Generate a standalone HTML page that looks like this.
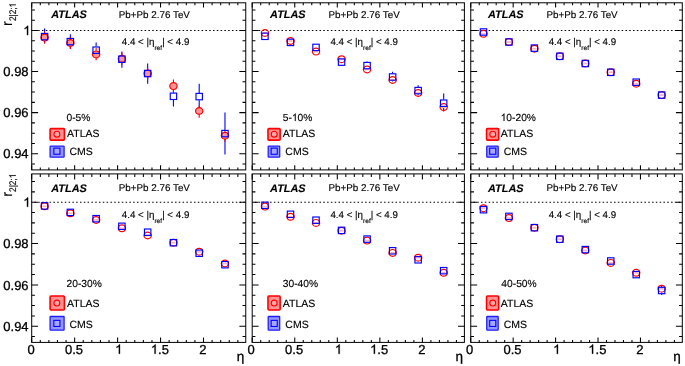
<!DOCTYPE html>
<html><head><meta charset="utf-8"><title>r2|2;1 vs eta</title>
<style>
html,body{margin:0;padding:0;background:#fff;}
body{width:685px;height:366px;overflow:hidden;font-family:"Liberation Sans", sans-serif;}
svg text{fill:#000;text-rendering:geometricPrecision;stroke:#000;stroke-width:0.14px;}
svg{filter:blur(0.25px);}
svg text.ax{stroke:#000;stroke-width:0.3px;}
</style></head><body>
<svg width="685" height="366" viewBox="0 0 685 366" style="display:block" font-family='"Liberation Sans", sans-serif'><rect width="685" height="366" fill="#fff"/><g><line x1="31.70" y1="30.50" x2="245.75" y2="30.50" stroke="#000" stroke-width="1.1" stroke-dasharray="1.5 2.3" stroke-dashoffset="1.1"/><rect x="31.70" y="2.80" width="214.05" height="167.10" fill="none" stroke="#000" stroke-width="1.0"/><path d="M31.70 169.90v-4.7 M31.70 2.80v4.8 M40.29 169.90v-2.35 M40.29 2.80v2.4 M48.88 169.90v-2.35 M48.88 2.80v2.4 M57.47 169.90v-2.35 M57.47 2.80v2.4 M66.06 169.90v-2.35 M66.06 2.80v2.4 M74.65 169.90v-4.7 M74.65 2.80v4.8 M83.24 169.90v-2.35 M83.24 2.80v2.4 M91.83 169.90v-2.35 M91.83 2.80v2.4 M100.42 169.90v-2.35 M100.42 2.80v2.4 M109.01 169.90v-2.35 M109.01 2.80v2.4 M117.60 169.90v-4.7 M117.60 2.80v4.8 M126.19 169.90v-2.35 M126.19 2.80v2.4 M134.78 169.90v-2.35 M134.78 2.80v2.4 M143.37 169.90v-2.35 M143.37 2.80v2.4 M151.96 169.90v-2.35 M151.96 2.80v2.4 M160.55 169.90v-4.7 M160.55 2.80v4.8 M169.14 169.90v-2.35 M169.14 2.80v2.4 M177.73 169.90v-2.35 M177.73 2.80v2.4 M186.32 169.90v-2.35 M186.32 2.80v2.4 M194.91 169.90v-2.35 M194.91 2.80v2.4 M203.50 169.90v-4.7 M203.50 2.80v4.8 M212.09 169.90v-2.35 M212.09 2.80v2.4 M220.68 169.90v-2.35 M220.68 2.80v2.4 M229.27 169.90v-2.35 M229.27 2.80v2.4 M237.86 169.90v-2.35 M237.86 2.80v2.4 M31.70 9.97h3.2 M245.75 9.97h-3.2 M31.70 20.23h3.2 M245.75 20.23h-3.2 M31.70 30.50h6.4 M245.75 30.50h-6.4 M31.70 40.77h3.2 M245.75 40.77h-3.2 M31.70 51.03h3.2 M245.75 51.03h-3.2 M31.70 61.30h3.2 M245.75 61.30h-3.2 M31.70 71.56h6.4 M245.75 71.56h-6.4 M31.70 81.83h3.2 M245.75 81.83h-3.2 M31.70 92.09h3.2 M245.75 92.09h-3.2 M31.70 102.36h3.2 M245.75 102.36h-3.2 M31.70 112.62h6.4 M245.75 112.62h-6.4 M31.70 122.89h3.2 M245.75 122.89h-3.2 M31.70 133.15h3.2 M245.75 133.15h-3.2 M31.70 143.42h3.2 M245.75 143.42h-3.2 M31.70 153.68h6.4 M245.75 153.68h-6.4 M31.70 163.94h3.2 M245.75 163.94h-3.2" stroke="#000" stroke-width="1.05" fill="none"/><line x1="44.59" y1="28.6" x2="44.59" y2="33.00" stroke="#0000ff" stroke-width="1.1"/><line x1="44.59" y1="40.20" x2="44.59" y2="43.5" stroke="#0000ff" stroke-width="1.1"/><line x1="70.36" y1="34.3" x2="70.36" y2="38.00" stroke="#0000ff" stroke-width="1.1"/><line x1="70.36" y1="45.20" x2="70.36" y2="48.7" stroke="#0000ff" stroke-width="1.1"/><line x1="96.13" y1="42.6" x2="96.13" y2="46.60" stroke="#0000ff" stroke-width="1.1"/><line x1="96.13" y1="53.80" x2="96.13" y2="57.3" stroke="#0000ff" stroke-width="1.1"/><line x1="121.90" y1="51.6" x2="121.90" y2="55.60" stroke="#0000ff" stroke-width="1.1"/><line x1="121.90" y1="62.80" x2="121.90" y2="67.8" stroke="#0000ff" stroke-width="1.1"/><line x1="147.67" y1="63.5" x2="147.67" y2="69.90" stroke="#0000ff" stroke-width="1.1"/><line x1="147.67" y1="77.10" x2="147.67" y2="83.7" stroke="#0000ff" stroke-width="1.1"/><line x1="173.44" y1="86.1" x2="173.44" y2="92.70" stroke="#0000ff" stroke-width="1.1"/><line x1="173.44" y1="99.90" x2="173.44" y2="106.5" stroke="#0000ff" stroke-width="1.1"/><line x1="199.20" y1="83.7" x2="199.20" y2="93.00" stroke="#0000ff" stroke-width="1.1"/><line x1="199.20" y1="100.20" x2="199.20" y2="109.5" stroke="#0000ff" stroke-width="1.1"/><line x1="224.97" y1="112.6" x2="224.97" y2="130.00" stroke="#0000ff" stroke-width="1.1"/><line x1="224.97" y1="137.20" x2="224.97" y2="154.4" stroke="#0000ff" stroke-width="1.1"/><line x1="44.59" y1="31.5" x2="44.59" y2="34.00" stroke="#ff0000" stroke-width="1.1"/><line x1="44.59" y1="41.20" x2="44.59" y2="43.5" stroke="#ff0000" stroke-width="1.1"/><ellipse cx="44.59" cy="37.6" rx="3.65" ry="3.4" fill="#ff9494" stroke="#ff0000" stroke-width="1.2"/><line x1="70.36" y1="37.0" x2="70.36" y2="39.40" stroke="#ff0000" stroke-width="1.1"/><line x1="70.36" y1="46.60" x2="70.36" y2="49.0" stroke="#ff0000" stroke-width="1.1"/><ellipse cx="70.36" cy="43.0" rx="3.65" ry="3.4" fill="#ff9494" stroke="#ff0000" stroke-width="1.2"/><line x1="96.13" y1="48.0" x2="96.13" y2="50.80" stroke="#ff0000" stroke-width="1.1"/><line x1="96.13" y1="58.00" x2="96.13" y2="60.2" stroke="#ff0000" stroke-width="1.1"/><ellipse cx="96.13" cy="54.4" rx="3.65" ry="3.4" fill="#ff9494" stroke="#ff0000" stroke-width="1.2"/><line x1="121.90" y1="52.5" x2="121.90" y2="55.20" stroke="#ff0000" stroke-width="1.1"/><line x1="121.90" y1="62.40" x2="121.90" y2="65.0" stroke="#ff0000" stroke-width="1.1"/><ellipse cx="121.90" cy="58.8" rx="3.65" ry="3.4" fill="#ff9494" stroke="#ff0000" stroke-width="1.2"/><line x1="147.67" y1="68.0" x2="147.67" y2="69.90" stroke="#ff0000" stroke-width="1.1"/><line x1="147.67" y1="77.10" x2="147.67" y2="80.0" stroke="#ff0000" stroke-width="1.1"/><ellipse cx="147.67" cy="73.5" rx="3.65" ry="3.4" fill="#ff9494" stroke="#ff0000" stroke-width="1.2"/><line x1="173.44" y1="79.5" x2="173.44" y2="82.50" stroke="#ff0000" stroke-width="1.1"/><line x1="173.44" y1="89.70" x2="173.44" y2="92.0" stroke="#ff0000" stroke-width="1.1"/><ellipse cx="173.44" cy="86.1" rx="3.65" ry="3.4" fill="#ff9494" stroke="#ff0000" stroke-width="1.2"/><line x1="199.20" y1="105.6" x2="199.20" y2="107.40" stroke="#ff0000" stroke-width="1.1"/><line x1="199.20" y1="114.60" x2="199.20" y2="117.7" stroke="#ff0000" stroke-width="1.1"/><ellipse cx="199.20" cy="111.0" rx="3.65" ry="3.4" fill="#ff9494" stroke="#ff0000" stroke-width="1.2"/><line x1="224.97" y1="130.6" x2="224.97" y2="132.10" stroke="#ff0000" stroke-width="1.1"/><line x1="224.97" y1="139.30" x2="224.97" y2="141.7" stroke="#ff0000" stroke-width="1.1"/><ellipse cx="224.97" cy="135.7" rx="3.65" ry="3.4" fill="#ff9494" stroke="#ff0000" stroke-width="1.2"/><rect x="41.38" y="33.40" width="6.4" height="6.4" fill="none" stroke="#0000ff" stroke-width="1.15"/><rect x="67.16" y="38.40" width="6.4" height="6.4" fill="none" stroke="#0000ff" stroke-width="1.15"/><rect x="92.93" y="47.00" width="6.4" height="6.4" fill="none" stroke="#0000ff" stroke-width="1.15"/><rect x="118.70" y="56.00" width="6.4" height="6.4" fill="none" stroke="#0000ff" stroke-width="1.15"/><rect x="144.47" y="70.30" width="6.4" height="6.4" fill="none" stroke="#0000ff" stroke-width="1.15"/><rect x="170.24" y="93.10" width="6.4" height="6.4" fill="none" stroke="#0000ff" stroke-width="1.15"/><rect x="196.00" y="93.40" width="6.4" height="6.4" fill="none" stroke="#0000ff" stroke-width="1.15"/><rect x="221.78" y="130.40" width="6.4" height="6.4" fill="none" stroke="#0000ff" stroke-width="1.15"/><text x="51.30" y="18.0" font-size="10.9" font-weight="bold" font-style="italic" stroke="#000" stroke-width="0.2">ATLAS</text><text x="118.70" y="17.5" font-size="9.85">Pb+Pb 2.76 TeV</text><text x="121.80" y="44.9" font-size="9.75">4.4 &lt; |η<tspan font-size="6.6" dy="4.6">ref</tspan><tspan dy="-4.6">| &lt; 4.9</tspan></text><text x="66.50" y="120.90" font-size="10.25">0-5%</text><rect x="50.10" y="128.6" width="14.30" height="11.50" rx="0.9" fill="#ff9292" stroke="#ff0000" stroke-width="1.6"/><circle cx="56.90" cy="134.2" r="2.95" fill="#ffa8a8" stroke="#ff0000" stroke-width="1.1"/><rect x="50.10" y="146.1" width="14.00" height="11.10" rx="0.6" fill="#9696ff" stroke="#2020ff" stroke-width="1.3"/><rect x="53.85" y="148.15" width="6.1" height="6.1" fill="#a8a8ff" stroke="#0000ff" stroke-width="1.1"/><text x="67.00" y="137.0" font-size="10.5">ATLAS</text><text x="69.50" y="154.7" font-size="10.5">CMS</text></g><g><line x1="252.20" y1="30.50" x2="464.40" y2="30.50" stroke="#000" stroke-width="1.1" stroke-dasharray="1.5 2.3" stroke-dashoffset="1.1"/><rect x="252.20" y="2.80" width="212.20" height="167.10" fill="none" stroke="#000" stroke-width="1.0"/><path d="M252.20 169.90v-4.7 M252.20 2.80v4.8 M260.71 169.90v-2.35 M260.71 2.80v2.4 M269.22 169.90v-2.35 M269.22 2.80v2.4 M277.73 169.90v-2.35 M277.73 2.80v2.4 M286.24 169.90v-2.35 M286.24 2.80v2.4 M294.75 169.90v-4.7 M294.75 2.80v4.8 M303.26 169.90v-2.35 M303.26 2.80v2.4 M311.77 169.90v-2.35 M311.77 2.80v2.4 M320.28 169.90v-2.35 M320.28 2.80v2.4 M328.79 169.90v-2.35 M328.79 2.80v2.4 M337.30 169.90v-4.7 M337.30 2.80v4.8 M345.81 169.90v-2.35 M345.81 2.80v2.4 M354.32 169.90v-2.35 M354.32 2.80v2.4 M362.83 169.90v-2.35 M362.83 2.80v2.4 M371.34 169.90v-2.35 M371.34 2.80v2.4 M379.85 169.90v-4.7 M379.85 2.80v4.8 M388.36 169.90v-2.35 M388.36 2.80v2.4 M396.87 169.90v-2.35 M396.87 2.80v2.4 M405.38 169.90v-2.35 M405.38 2.80v2.4 M413.89 169.90v-2.35 M413.89 2.80v2.4 M422.40 169.90v-4.7 M422.40 2.80v4.8 M430.91 169.90v-2.35 M430.91 2.80v2.4 M439.42 169.90v-2.35 M439.42 2.80v2.4 M447.93 169.90v-2.35 M447.93 2.80v2.4 M456.44 169.90v-2.35 M456.44 2.80v2.4 M252.20 9.97h3.2 M464.40 9.97h-3.2 M252.20 20.23h3.2 M464.40 20.23h-3.2 M252.20 30.50h6.4 M464.40 30.50h-6.4 M252.20 40.77h3.2 M464.40 40.77h-3.2 M252.20 51.03h3.2 M464.40 51.03h-3.2 M252.20 61.30h3.2 M464.40 61.30h-3.2 M252.20 71.56h6.4 M464.40 71.56h-6.4 M252.20 81.83h3.2 M464.40 81.83h-3.2 M252.20 92.09h3.2 M464.40 92.09h-3.2 M252.20 102.36h3.2 M464.40 102.36h-3.2 M252.20 112.62h6.4 M464.40 112.62h-6.4 M252.20 122.89h3.2 M464.40 122.89h-3.2 M252.20 133.15h3.2 M464.40 133.15h-3.2 M252.20 143.42h3.2 M464.40 143.42h-3.2 M252.20 153.68h6.4 M464.40 153.68h-6.4 M252.20 163.94h3.2 M464.40 163.94h-3.2" stroke="#000" stroke-width="1.05" fill="none"/><line x1="367.08" y1="61.4" x2="367.08" y2="62.00" stroke="#0000ff" stroke-width="1.1"/><line x1="367.08" y1="69.20" x2="367.08" y2="70.0" stroke="#0000ff" stroke-width="1.1"/><line x1="392.62" y1="71.8" x2="392.62" y2="73.40" stroke="#0000ff" stroke-width="1.1"/><line x1="392.62" y1="80.60" x2="392.62" y2="81.5" stroke="#0000ff" stroke-width="1.1"/><line x1="418.14" y1="85.2" x2="418.14" y2="87.00" stroke="#0000ff" stroke-width="1.1"/><line x1="418.14" y1="94.20" x2="418.14" y2="95.2" stroke="#0000ff" stroke-width="1.1"/><line x1="443.67" y1="93.6" x2="443.67" y2="99.60" stroke="#0000ff" stroke-width="1.1"/><line x1="443.67" y1="106.80" x2="443.67" y2="111.6" stroke="#0000ff" stroke-width="1.1"/><rect x="262.86" y="32.10" width="4.2" height="1.8" fill="#ffb4b4"/><ellipse cx="264.96" cy="33.0" rx="3.65" ry="3.4" fill="none" stroke="#ff0000" stroke-width="1.2"/><rect x="288.39" y="40.10" width="4.2" height="1.8" fill="#ffb4b4"/><ellipse cx="290.50" cy="41.0" rx="3.65" ry="3.4" fill="none" stroke="#ff0000" stroke-width="1.2"/><rect x="313.92" y="50.70" width="4.2" height="1.8" fill="#ffb4b4"/><ellipse cx="316.02" cy="51.6" rx="3.65" ry="3.4" fill="none" stroke="#ff0000" stroke-width="1.2"/><rect x="339.45" y="58.30" width="4.2" height="1.8" fill="#ffb4b4"/><ellipse cx="341.56" cy="59.2" rx="3.65" ry="3.4" fill="none" stroke="#ff0000" stroke-width="1.2"/><rect x="364.98" y="68.60" width="4.2" height="1.8" fill="#ffb4b4"/><ellipse cx="367.08" cy="69.5" rx="3.65" ry="3.4" fill="none" stroke="#ff0000" stroke-width="1.2"/><rect x="390.51" y="79.10" width="4.2" height="1.8" fill="#ffb4b4"/><ellipse cx="392.62" cy="80.0" rx="3.65" ry="3.4" fill="none" stroke="#ff0000" stroke-width="1.2"/><rect x="416.04" y="92.10" width="4.2" height="1.8" fill="#ffb4b4"/><ellipse cx="418.14" cy="93.0" rx="3.65" ry="3.4" fill="none" stroke="#ff0000" stroke-width="1.2"/><rect x="441.57" y="106.20" width="4.2" height="1.8" fill="#ffb4b4"/><ellipse cx="443.67" cy="107.1" rx="3.65" ry="3.4" fill="none" stroke="#ff0000" stroke-width="1.2"/><rect x="261.76" y="33.10" width="6.4" height="6.4" fill="none" stroke="#0000ff" stroke-width="1.15"/><rect x="287.30" y="39.20" width="6.4" height="6.4" fill="none" stroke="#0000ff" stroke-width="1.15"/><rect x="312.82" y="44.20" width="6.4" height="6.4" fill="none" stroke="#0000ff" stroke-width="1.15"/><rect x="338.36" y="58.90" width="6.4" height="6.4" fill="none" stroke="#0000ff" stroke-width="1.15"/><rect x="363.88" y="62.40" width="6.4" height="6.4" fill="none" stroke="#0000ff" stroke-width="1.15"/><rect x="389.42" y="73.80" width="6.4" height="6.4" fill="none" stroke="#0000ff" stroke-width="1.15"/><rect x="414.94" y="87.40" width="6.4" height="6.4" fill="none" stroke="#0000ff" stroke-width="1.15"/><rect x="440.47" y="100.00" width="6.4" height="6.4" fill="none" stroke="#0000ff" stroke-width="1.15"/><text x="270.10" y="18.0" font-size="10.9" font-weight="bold" font-style="italic" stroke="#000" stroke-width="0.2">ATLAS</text><text x="328.50" y="17.5" font-size="9.85">Pb+Pb 2.76 TeV</text><text x="330.40" y="44.9" font-size="9.75">4.4 &lt; |η<tspan font-size="6.6" dy="4.6">ref</tspan><tspan dy="-4.6">| &lt; 4.9</tspan></text><text x="282.80" y="120.90" font-size="10.25">5-</text><path d="M763 0H583V1147Q518 1085 412.5 1023Q307 961 223 930V1104Q374 1175 487 1276Q600 1377 647 1472H763Z" transform="translate(291.91,120.90) scale(0.00500,-0.00500)" fill="#000" stroke="#000" stroke-width="27"/><text x="297.61" y="120.90" font-size="10.25">0%</text><rect x="268.00" y="128.6" width="12.15" height="11.50" rx="0.9" fill="#ff9292" stroke="#ff0000" stroke-width="1.6"/><circle cx="274.20" cy="134.2" r="2.95" fill="#ffa8a8" stroke="#ff0000" stroke-width="1.1"/><rect x="268.20" y="146.1" width="11.50" height="11.10" rx="0.6" fill="#9696ff" stroke="#2020ff" stroke-width="1.3"/><rect x="271.15" y="148.15" width="6.1" height="6.1" fill="#a8a8ff" stroke="#0000ff" stroke-width="1.1"/><text x="282.80" y="137.0" font-size="10.5">ATLAS</text><text x="285.30" y="154.7" font-size="10.5">CMS</text></g><g><line x1="470.75" y1="30.50" x2="682.30" y2="30.50" stroke="#000" stroke-width="1.1" stroke-dasharray="1.5 2.3" stroke-dashoffset="1.1"/><rect x="470.75" y="2.80" width="211.55" height="167.10" fill="none" stroke="#000" stroke-width="1.0"/><path d="M470.75 169.90v-4.7 M470.75 2.80v4.8 M479.24 169.90v-2.35 M479.24 2.80v2.4 M487.72 169.90v-2.35 M487.72 2.80v2.4 M496.20 169.90v-2.35 M496.20 2.80v2.4 M504.69 169.90v-2.35 M504.69 2.80v2.4 M513.17 169.90v-4.7 M513.17 2.80v4.8 M521.66 169.90v-2.35 M521.66 2.80v2.4 M530.14 169.90v-2.35 M530.14 2.80v2.4 M538.63 169.90v-2.35 M538.63 2.80v2.4 M547.12 169.90v-2.35 M547.12 2.80v2.4 M555.60 169.90v-4.7 M555.60 2.80v4.8 M564.09 169.90v-2.35 M564.09 2.80v2.4 M572.57 169.90v-2.35 M572.57 2.80v2.4 M581.06 169.90v-2.35 M581.06 2.80v2.4 M589.54 169.90v-2.35 M589.54 2.80v2.4 M598.02 169.90v-4.7 M598.02 2.80v4.8 M606.51 169.90v-2.35 M606.51 2.80v2.4 M615.00 169.90v-2.35 M615.00 2.80v2.4 M623.48 169.90v-2.35 M623.48 2.80v2.4 M631.97 169.90v-2.35 M631.97 2.80v2.4 M640.45 169.90v-4.7 M640.45 2.80v4.8 M648.93 169.90v-2.35 M648.93 2.80v2.4 M657.42 169.90v-2.35 M657.42 2.80v2.4 M665.90 169.90v-2.35 M665.90 2.80v2.4 M674.39 169.90v-2.35 M674.39 2.80v2.4 M470.75 9.97h3.2 M682.30 9.97h-3.2 M470.75 20.23h3.2 M682.30 20.23h-3.2 M470.75 30.50h6.4 M682.30 30.50h-6.4 M470.75 40.77h3.2 M682.30 40.77h-3.2 M470.75 51.03h3.2 M682.30 51.03h-3.2 M470.75 61.30h3.2 M682.30 61.30h-3.2 M470.75 71.56h6.4 M682.30 71.56h-6.4 M470.75 81.83h3.2 M682.30 81.83h-3.2 M470.75 92.09h3.2 M682.30 92.09h-3.2 M470.75 102.36h3.2 M682.30 102.36h-3.2 M470.75 112.62h6.4 M682.30 112.62h-6.4 M470.75 122.89h3.2 M682.30 122.89h-3.2 M470.75 133.15h3.2 M682.30 133.15h-3.2 M470.75 143.42h3.2 M682.30 143.42h-3.2 M470.75 153.68h6.4 M682.30 153.68h-6.4 M470.75 163.94h3.2 M682.30 163.94h-3.2" stroke="#000" stroke-width="1.05" fill="none"/><rect x="481.38" y="32.90" width="4.2" height="1.8" fill="#ffb4b4"/><ellipse cx="483.48" cy="33.8" rx="3.65" ry="3.4" fill="none" stroke="#ff0000" stroke-width="1.2"/><rect x="506.83" y="41.10" width="4.2" height="1.8" fill="#ffb4b4"/><ellipse cx="508.93" cy="42.0" rx="3.65" ry="3.4" fill="none" stroke="#ff0000" stroke-width="1.2"/><rect x="532.29" y="47.80" width="4.2" height="1.8" fill="#ffb4b4"/><ellipse cx="534.39" cy="48.7" rx="3.65" ry="3.4" fill="none" stroke="#ff0000" stroke-width="1.2"/><rect x="557.74" y="55.40" width="4.2" height="1.8" fill="#ffb4b4"/><ellipse cx="559.84" cy="56.3" rx="3.65" ry="3.4" fill="none" stroke="#ff0000" stroke-width="1.2"/><rect x="583.20" y="62.60" width="4.2" height="1.8" fill="#ffb4b4"/><ellipse cx="585.30" cy="63.5" rx="3.65" ry="3.4" fill="none" stroke="#ff0000" stroke-width="1.2"/><rect x="608.65" y="71.40" width="4.2" height="1.8" fill="#ffb4b4"/><ellipse cx="610.75" cy="72.3" rx="3.65" ry="3.4" fill="none" stroke="#ff0000" stroke-width="1.2"/><rect x="634.11" y="82.80" width="4.2" height="1.8" fill="#ffb4b4"/><ellipse cx="636.21" cy="83.7" rx="3.65" ry="3.4" fill="none" stroke="#ff0000" stroke-width="1.2"/><rect x="659.56" y="94.20" width="4.2" height="1.8" fill="#ffb4b4"/><ellipse cx="661.66" cy="95.1" rx="3.65" ry="3.4" fill="none" stroke="#ff0000" stroke-width="1.2"/><rect x="480.28" y="28.80" width="6.4" height="6.4" fill="none" stroke="#0000ff" stroke-width="1.15"/><rect x="505.73" y="38.80" width="6.4" height="6.4" fill="none" stroke="#0000ff" stroke-width="1.15"/><rect x="531.19" y="44.90" width="6.4" height="6.4" fill="none" stroke="#0000ff" stroke-width="1.15"/><rect x="556.64" y="53.10" width="6.4" height="6.4" fill="none" stroke="#0000ff" stroke-width="1.15"/><rect x="582.10" y="60.30" width="6.4" height="6.4" fill="none" stroke="#0000ff" stroke-width="1.15"/><rect x="607.55" y="69.10" width="6.4" height="6.4" fill="none" stroke="#0000ff" stroke-width="1.15"/><rect x="633.01" y="79.00" width="6.4" height="6.4" fill="none" stroke="#0000ff" stroke-width="1.15"/><rect x="658.46" y="91.90" width="6.4" height="6.4" fill="none" stroke="#0000ff" stroke-width="1.15"/><text x="488.05" y="18.0" font-size="10.9" font-weight="bold" font-style="italic" stroke="#000" stroke-width="0.2">ATLAS</text><text x="546.45" y="17.5" font-size="9.85">Pb+Pb 2.76 TeV</text><text x="548.65" y="44.9" font-size="9.75">4.4 &lt; |η<tspan font-size="6.6" dy="4.6">ref</tspan><tspan dy="-4.6">| &lt; 4.9</tspan></text><path d="M763 0H583V1147Q518 1085 412.5 1023Q307 961 223 930V1104Q374 1175 487 1276Q600 1377 647 1472H763Z" transform="translate(500.65,120.90) scale(0.00500,-0.00500)" fill="#000" stroke="#000" stroke-width="27"/><text x="506.35" y="120.90" font-size="10.25">0-20%</text><rect x="486.55" y="128.6" width="12.10" height="11.50" rx="0.9" fill="#ff9292" stroke="#ff0000" stroke-width="1.6"/><circle cx="492.75" cy="134.2" r="2.95" fill="#ffa8a8" stroke="#ff0000" stroke-width="1.1"/><rect x="486.75" y="146.1" width="11.45" height="11.10" rx="0.6" fill="#9696ff" stroke="#2020ff" stroke-width="1.3"/><rect x="489.70" y="148.15" width="6.1" height="6.1" fill="#a8a8ff" stroke="#0000ff" stroke-width="1.1"/><text x="500.85" y="137.0" font-size="10.5">ATLAS</text><text x="503.65" y="154.7" font-size="10.5">CMS</text></g><g><line x1="31.70" y1="202.20" x2="245.75" y2="202.20" stroke="#000" stroke-width="1.1" stroke-dasharray="1.5 2.3" stroke-dashoffset="1.1"/><rect x="31.70" y="173.90" width="214.05" height="168.50" fill="none" stroke="#000" stroke-width="1.0"/><path d="M31.70 342.40v-4.9 M31.70 173.90v5.6 M40.29 342.40v-2.35 M40.29 173.90v3.0 M48.88 342.40v-2.35 M48.88 173.90v3.0 M57.47 342.40v-2.35 M57.47 173.90v3.0 M66.06 342.40v-2.35 M66.06 173.90v3.0 M74.65 342.40v-4.9 M74.65 173.90v5.6 M83.24 342.40v-2.35 M83.24 173.90v3.0 M91.83 342.40v-2.35 M91.83 173.90v3.0 M100.42 342.40v-2.35 M100.42 173.90v3.0 M109.01 342.40v-2.35 M109.01 173.90v3.0 M117.60 342.40v-4.9 M117.60 173.90v5.6 M126.19 342.40v-2.35 M126.19 173.90v3.0 M134.78 342.40v-2.35 M134.78 173.90v3.0 M143.37 342.40v-2.35 M143.37 173.90v3.0 M151.96 342.40v-2.35 M151.96 173.90v3.0 M160.55 342.40v-4.9 M160.55 173.90v5.6 M169.14 342.40v-2.35 M169.14 173.90v3.0 M177.73 342.40v-2.35 M177.73 173.90v3.0 M186.32 342.40v-2.35 M186.32 173.90v3.0 M194.91 342.40v-2.35 M194.91 173.90v3.0 M203.50 342.40v-4.9 M203.50 173.90v5.6 M212.09 342.40v-2.35 M212.09 173.90v3.0 M220.68 342.40v-2.35 M220.68 173.90v3.0 M229.27 342.40v-2.35 M229.27 173.90v3.0 M237.86 342.40v-2.35 M237.86 173.90v3.0 M31.70 181.52h3.2 M245.75 181.52h-3.2 M31.70 191.86h3.2 M245.75 191.86h-3.2 M31.70 202.20h6.4 M245.75 202.20h-6.4 M31.70 212.54h3.2 M245.75 212.54h-3.2 M31.70 222.88h3.2 M245.75 222.88h-3.2 M31.70 233.21h3.2 M245.75 233.21h-3.2 M31.70 243.55h6.4 M245.75 243.55h-6.4 M31.70 253.89h3.2 M245.75 253.89h-3.2 M31.70 264.23h3.2 M245.75 264.23h-3.2 M31.70 274.56h3.2 M245.75 274.56h-3.2 M31.70 284.90h6.4 M245.75 284.90h-6.4 M31.70 295.24h3.2 M245.75 295.24h-3.2 M31.70 305.57h3.2 M245.75 305.57h-3.2 M31.70 315.91h3.2 M245.75 315.91h-3.2 M31.70 326.25h6.4 M245.75 326.25h-6.4 M31.70 336.59h3.2 M245.75 336.59h-3.2" stroke="#000" stroke-width="1.05" fill="none"/><rect x="42.48" y="205.40" width="4.2" height="1.8" fill="#ffb4b4"/><ellipse cx="44.59" cy="206.3" rx="3.65" ry="3.4" fill="none" stroke="#ff0000" stroke-width="1.2"/><rect x="68.26" y="212.40" width="4.2" height="1.8" fill="#ffb4b4"/><ellipse cx="70.36" cy="213.3" rx="3.65" ry="3.4" fill="none" stroke="#ff0000" stroke-width="1.2"/><rect x="94.03" y="219.10" width="4.2" height="1.8" fill="#ffb4b4"/><ellipse cx="96.13" cy="220.0" rx="3.65" ry="3.4" fill="none" stroke="#ff0000" stroke-width="1.2"/><rect x="119.80" y="227.40" width="4.2" height="1.8" fill="#ffb4b4"/><ellipse cx="121.90" cy="228.3" rx="3.65" ry="3.4" fill="none" stroke="#ff0000" stroke-width="1.2"/><rect x="145.57" y="234.60" width="4.2" height="1.8" fill="#ffb4b4"/><ellipse cx="147.67" cy="235.5" rx="3.65" ry="3.4" fill="none" stroke="#ff0000" stroke-width="1.2"/><rect x="171.34" y="241.80" width="4.2" height="1.8" fill="#ffb4b4"/><ellipse cx="173.44" cy="242.7" rx="3.65" ry="3.4" fill="none" stroke="#ff0000" stroke-width="1.2"/><rect x="197.10" y="250.80" width="4.2" height="1.8" fill="#ffb4b4"/><ellipse cx="199.20" cy="251.7" rx="3.65" ry="3.4" fill="none" stroke="#ff0000" stroke-width="1.2"/><rect x="222.88" y="262.60" width="4.2" height="1.8" fill="#ffb4b4"/><ellipse cx="224.97" cy="263.5" rx="3.65" ry="3.4" fill="none" stroke="#ff0000" stroke-width="1.2"/><rect x="41.38" y="202.70" width="6.4" height="6.4" fill="none" stroke="#0000ff" stroke-width="1.15"/><rect x="67.16" y="209.20" width="6.4" height="6.4" fill="none" stroke="#0000ff" stroke-width="1.15"/><rect x="92.93" y="215.50" width="6.4" height="6.4" fill="none" stroke="#0000ff" stroke-width="1.15"/><rect x="118.70" y="223.10" width="6.4" height="6.4" fill="none" stroke="#0000ff" stroke-width="1.15"/><rect x="144.47" y="229.00" width="6.4" height="6.4" fill="none" stroke="#0000ff" stroke-width="1.15"/><rect x="170.24" y="239.50" width="6.4" height="6.4" fill="none" stroke="#0000ff" stroke-width="1.15"/><rect x="196.00" y="250.00" width="6.4" height="6.4" fill="none" stroke="#0000ff" stroke-width="1.15"/><rect x="221.78" y="261.50" width="6.4" height="6.4" fill="none" stroke="#0000ff" stroke-width="1.15"/><text x="51.30" y="191.6" font-size="10.9" font-weight="bold" font-style="italic" stroke="#000" stroke-width="0.2">ATLAS</text><text x="118.70" y="191.0" font-size="9.85">Pb+Pb 2.76 TeV</text><text x="121.80" y="218.4" font-size="9.75">4.4 &lt; |η<tspan font-size="6.6" dy="4.6">ref</tspan><tspan dy="-4.6">| &lt; 4.9</tspan></text><text x="66.50" y="286.50" font-size="10.25">20-30%</text><rect x="50.10" y="296.0" width="14.30" height="14.00" rx="0.9" fill="#ff9292" stroke="#ff0000" stroke-width="1.6"/><circle cx="56.90" cy="303.1" r="2.95" fill="#ffa8a8" stroke="#ff0000" stroke-width="1.1"/><rect x="50.10" y="316.5" width="14.00" height="13.70" rx="0.6" fill="#9696ff" stroke="#2020ff" stroke-width="1.3"/><rect x="53.85" y="320.35" width="6.1" height="6.1" fill="#a8a8ff" stroke="#0000ff" stroke-width="1.1"/><text x="67.00" y="306.9" font-size="10.5">ATLAS</text><text x="69.50" y="328.0" font-size="10.5">CMS</text></g><g><line x1="252.20" y1="202.20" x2="464.40" y2="202.20" stroke="#000" stroke-width="1.1" stroke-dasharray="1.5 2.3" stroke-dashoffset="1.1"/><rect x="252.20" y="173.90" width="212.20" height="168.50" fill="none" stroke="#000" stroke-width="1.0"/><path d="M252.20 342.40v-4.9 M252.20 173.90v5.6 M260.71 342.40v-2.35 M260.71 173.90v3.0 M269.22 342.40v-2.35 M269.22 173.90v3.0 M277.73 342.40v-2.35 M277.73 173.90v3.0 M286.24 342.40v-2.35 M286.24 173.90v3.0 M294.75 342.40v-4.9 M294.75 173.90v5.6 M303.26 342.40v-2.35 M303.26 173.90v3.0 M311.77 342.40v-2.35 M311.77 173.90v3.0 M320.28 342.40v-2.35 M320.28 173.90v3.0 M328.79 342.40v-2.35 M328.79 173.90v3.0 M337.30 342.40v-4.9 M337.30 173.90v5.6 M345.81 342.40v-2.35 M345.81 173.90v3.0 M354.32 342.40v-2.35 M354.32 173.90v3.0 M362.83 342.40v-2.35 M362.83 173.90v3.0 M371.34 342.40v-2.35 M371.34 173.90v3.0 M379.85 342.40v-4.9 M379.85 173.90v5.6 M388.36 342.40v-2.35 M388.36 173.90v3.0 M396.87 342.40v-2.35 M396.87 173.90v3.0 M405.38 342.40v-2.35 M405.38 173.90v3.0 M413.89 342.40v-2.35 M413.89 173.90v3.0 M422.40 342.40v-4.9 M422.40 173.90v5.6 M430.91 342.40v-2.35 M430.91 173.90v3.0 M439.42 342.40v-2.35 M439.42 173.90v3.0 M447.93 342.40v-2.35 M447.93 173.90v3.0 M456.44 342.40v-2.35 M456.44 173.90v3.0 M252.20 181.52h3.2 M464.40 181.52h-3.2 M252.20 191.86h3.2 M464.40 191.86h-3.2 M252.20 202.20h6.4 M464.40 202.20h-6.4 M252.20 212.54h3.2 M464.40 212.54h-3.2 M252.20 222.88h3.2 M464.40 222.88h-3.2 M252.20 233.21h3.2 M464.40 233.21h-3.2 M252.20 243.55h6.4 M464.40 243.55h-6.4 M252.20 253.89h3.2 M464.40 253.89h-3.2 M252.20 264.23h3.2 M464.40 264.23h-3.2 M252.20 274.56h3.2 M464.40 274.56h-3.2 M252.20 284.90h6.4 M464.40 284.90h-6.4 M252.20 295.24h3.2 M464.40 295.24h-3.2 M252.20 305.57h3.2 M464.40 305.57h-3.2 M252.20 315.91h3.2 M464.40 315.91h-3.2 M252.20 326.25h6.4 M464.40 326.25h-6.4 M252.20 336.59h3.2 M464.40 336.59h-3.2" stroke="#000" stroke-width="1.05" fill="none"/><rect x="262.86" y="205.70" width="4.2" height="1.8" fill="#ffb4b4"/><ellipse cx="264.96" cy="206.6" rx="3.65" ry="3.4" fill="none" stroke="#ff0000" stroke-width="1.2"/><rect x="288.39" y="215.90" width="4.2" height="1.8" fill="#ffb4b4"/><ellipse cx="290.50" cy="216.8" rx="3.65" ry="3.4" fill="none" stroke="#ff0000" stroke-width="1.2"/><rect x="313.92" y="222.00" width="4.2" height="1.8" fill="#ffb4b4"/><ellipse cx="316.02" cy="222.9" rx="3.65" ry="3.4" fill="none" stroke="#ff0000" stroke-width="1.2"/><rect x="339.45" y="229.80" width="4.2" height="1.8" fill="#ffb4b4"/><ellipse cx="341.56" cy="230.7" rx="3.65" ry="3.4" fill="none" stroke="#ff0000" stroke-width="1.2"/><rect x="364.98" y="239.70" width="4.2" height="1.8" fill="#ffb4b4"/><ellipse cx="367.08" cy="240.6" rx="3.65" ry="3.4" fill="none" stroke="#ff0000" stroke-width="1.2"/><rect x="390.51" y="252.00" width="4.2" height="1.8" fill="#ffb4b4"/><ellipse cx="392.62" cy="252.9" rx="3.65" ry="3.4" fill="none" stroke="#ff0000" stroke-width="1.2"/><rect x="416.04" y="256.80" width="4.2" height="1.8" fill="#ffb4b4"/><ellipse cx="418.14" cy="257.7" rx="3.65" ry="3.4" fill="none" stroke="#ff0000" stroke-width="1.2"/><rect x="441.57" y="271.90" width="4.2" height="1.8" fill="#ffb4b4"/><ellipse cx="443.67" cy="272.8" rx="3.65" ry="3.4" fill="none" stroke="#ff0000" stroke-width="1.2"/><rect x="261.76" y="202.10" width="6.4" height="6.4" fill="none" stroke="#0000ff" stroke-width="1.15"/><rect x="287.30" y="211.10" width="6.4" height="6.4" fill="none" stroke="#0000ff" stroke-width="1.15"/><rect x="312.82" y="217.00" width="6.4" height="6.4" fill="none" stroke="#0000ff" stroke-width="1.15"/><rect x="338.36" y="227.20" width="6.4" height="6.4" fill="none" stroke="#0000ff" stroke-width="1.15"/><rect x="363.88" y="235.90" width="6.4" height="6.4" fill="none" stroke="#0000ff" stroke-width="1.15"/><rect x="389.42" y="247.60" width="6.4" height="6.4" fill="none" stroke="#0000ff" stroke-width="1.15"/><rect x="414.94" y="256.60" width="6.4" height="6.4" fill="none" stroke="#0000ff" stroke-width="1.15"/><rect x="440.47" y="267.50" width="6.4" height="6.4" fill="none" stroke="#0000ff" stroke-width="1.15"/><text x="270.10" y="191.6" font-size="10.9" font-weight="bold" font-style="italic" stroke="#000" stroke-width="0.2">ATLAS</text><text x="328.50" y="191.0" font-size="9.85">Pb+Pb 2.76 TeV</text><text x="330.40" y="218.4" font-size="9.75">4.4 &lt; |η<tspan font-size="6.6" dy="4.6">ref</tspan><tspan dy="-4.6">| &lt; 4.9</tspan></text><text x="282.80" y="286.50" font-size="10.25">30-40%</text><rect x="268.00" y="296.0" width="12.15" height="14.00" rx="0.9" fill="#ff9292" stroke="#ff0000" stroke-width="1.6"/><circle cx="274.20" cy="303.1" r="2.95" fill="#ffa8a8" stroke="#ff0000" stroke-width="1.1"/><rect x="268.20" y="316.5" width="11.50" height="13.70" rx="0.6" fill="#9696ff" stroke="#2020ff" stroke-width="1.3"/><rect x="271.15" y="320.35" width="6.1" height="6.1" fill="#a8a8ff" stroke="#0000ff" stroke-width="1.1"/><text x="282.80" y="306.9" font-size="10.5">ATLAS</text><text x="285.30" y="328.0" font-size="10.5">CMS</text></g><g><line x1="470.75" y1="202.20" x2="682.30" y2="202.20" stroke="#000" stroke-width="1.1" stroke-dasharray="1.5 2.3" stroke-dashoffset="1.1"/><rect x="470.75" y="173.90" width="211.55" height="168.50" fill="none" stroke="#000" stroke-width="1.0"/><path d="M470.75 342.40v-4.9 M470.75 173.90v5.6 M479.24 342.40v-2.35 M479.24 173.90v3.0 M487.72 342.40v-2.35 M487.72 173.90v3.0 M496.20 342.40v-2.35 M496.20 173.90v3.0 M504.69 342.40v-2.35 M504.69 173.90v3.0 M513.17 342.40v-4.9 M513.17 173.90v5.6 M521.66 342.40v-2.35 M521.66 173.90v3.0 M530.14 342.40v-2.35 M530.14 173.90v3.0 M538.63 342.40v-2.35 M538.63 173.90v3.0 M547.12 342.40v-2.35 M547.12 173.90v3.0 M555.60 342.40v-4.9 M555.60 173.90v5.6 M564.09 342.40v-2.35 M564.09 173.90v3.0 M572.57 342.40v-2.35 M572.57 173.90v3.0 M581.06 342.40v-2.35 M581.06 173.90v3.0 M589.54 342.40v-2.35 M589.54 173.90v3.0 M598.02 342.40v-4.9 M598.02 173.90v5.6 M606.51 342.40v-2.35 M606.51 173.90v3.0 M615.00 342.40v-2.35 M615.00 173.90v3.0 M623.48 342.40v-2.35 M623.48 173.90v3.0 M631.97 342.40v-2.35 M631.97 173.90v3.0 M640.45 342.40v-4.9 M640.45 173.90v5.6 M648.93 342.40v-2.35 M648.93 173.90v3.0 M657.42 342.40v-2.35 M657.42 173.90v3.0 M665.90 342.40v-2.35 M665.90 173.90v3.0 M674.39 342.40v-2.35 M674.39 173.90v3.0 M470.75 181.52h3.2 M682.30 181.52h-3.2 M470.75 191.86h3.2 M682.30 191.86h-3.2 M470.75 202.20h6.4 M682.30 202.20h-6.4 M470.75 212.54h3.2 M682.30 212.54h-3.2 M470.75 222.88h3.2 M682.30 222.88h-3.2 M470.75 233.21h3.2 M682.30 233.21h-3.2 M470.75 243.55h6.4 M682.30 243.55h-6.4 M470.75 253.89h3.2 M682.30 253.89h-3.2 M470.75 264.23h3.2 M682.30 264.23h-3.2 M470.75 274.56h3.2 M682.30 274.56h-3.2 M470.75 284.90h6.4 M682.30 284.90h-6.4 M470.75 295.24h3.2 M682.30 295.24h-3.2 M470.75 305.57h3.2 M682.30 305.57h-3.2 M470.75 315.91h3.2 M682.30 315.91h-3.2 M470.75 326.25h6.4 M682.30 326.25h-6.4 M470.75 336.59h3.2 M682.30 336.59h-3.2" stroke="#000" stroke-width="1.05" fill="none"/><line x1="661.66" y1="285.5" x2="661.66" y2="286.90" stroke="#0000ff" stroke-width="1.1"/><line x1="661.66" y1="294.10" x2="661.66" y2="295.0" stroke="#0000ff" stroke-width="1.1"/><rect x="481.38" y="207.30" width="4.2" height="1.8" fill="#ffb4b4"/><ellipse cx="483.48" cy="208.2" rx="3.65" ry="3.4" fill="none" stroke="#ff0000" stroke-width="1.2"/><rect x="506.83" y="217.20" width="4.2" height="1.8" fill="#ffb4b4"/><ellipse cx="508.93" cy="218.1" rx="3.65" ry="3.4" fill="none" stroke="#ff0000" stroke-width="1.2"/><rect x="532.29" y="226.80" width="4.2" height="1.8" fill="#ffb4b4"/><ellipse cx="534.39" cy="227.7" rx="3.65" ry="3.4" fill="none" stroke="#ff0000" stroke-width="1.2"/><rect x="557.74" y="238.30" width="4.2" height="1.8" fill="#ffb4b4"/><ellipse cx="559.84" cy="239.2" rx="3.65" ry="3.4" fill="none" stroke="#ff0000" stroke-width="1.2"/><rect x="583.20" y="249.60" width="4.2" height="1.8" fill="#ffb4b4"/><ellipse cx="585.30" cy="250.5" rx="3.65" ry="3.4" fill="none" stroke="#ff0000" stroke-width="1.2"/><rect x="608.65" y="262.00" width="4.2" height="1.8" fill="#ffb4b4"/><ellipse cx="610.75" cy="262.9" rx="3.65" ry="3.4" fill="none" stroke="#ff0000" stroke-width="1.2"/><rect x="634.11" y="271.90" width="4.2" height="1.8" fill="#ffb4b4"/><ellipse cx="636.21" cy="272.8" rx="3.65" ry="3.4" fill="none" stroke="#ff0000" stroke-width="1.2"/><rect x="659.56" y="287.80" width="4.2" height="1.8" fill="#ffb4b4"/><ellipse cx="661.66" cy="288.7" rx="3.65" ry="3.4" fill="none" stroke="#ff0000" stroke-width="1.2"/><rect x="480.28" y="206.50" width="6.4" height="6.4" fill="none" stroke="#0000ff" stroke-width="1.15"/><rect x="505.73" y="213.20" width="6.4" height="6.4" fill="none" stroke="#0000ff" stroke-width="1.15"/><rect x="531.19" y="224.50" width="6.4" height="6.4" fill="none" stroke="#0000ff" stroke-width="1.15"/><rect x="556.64" y="236.00" width="6.4" height="6.4" fill="none" stroke="#0000ff" stroke-width="1.15"/><rect x="582.10" y="246.40" width="6.4" height="6.4" fill="none" stroke="#0000ff" stroke-width="1.15"/><rect x="607.55" y="257.80" width="6.4" height="6.4" fill="none" stroke="#0000ff" stroke-width="1.15"/><rect x="633.01" y="271.40" width="6.4" height="6.4" fill="none" stroke="#0000ff" stroke-width="1.15"/><rect x="658.46" y="287.30" width="6.4" height="6.4" fill="none" stroke="#0000ff" stroke-width="1.15"/><text x="488.05" y="191.6" font-size="10.9" font-weight="bold" font-style="italic" stroke="#000" stroke-width="0.2">ATLAS</text><text x="546.45" y="191.0" font-size="9.85">Pb+Pb 2.76 TeV</text><text x="548.65" y="218.4" font-size="9.75">4.4 &lt; |η<tspan font-size="6.6" dy="4.6">ref</tspan><tspan dy="-4.6">| &lt; 4.9</tspan></text><text x="501.35" y="286.50" font-size="10.25">40-50%</text><rect x="486.55" y="296.0" width="12.10" height="14.00" rx="0.9" fill="#ff9292" stroke="#ff0000" stroke-width="1.6"/><circle cx="492.75" cy="303.1" r="2.95" fill="#ffa8a8" stroke="#ff0000" stroke-width="1.1"/><rect x="486.75" y="316.5" width="11.45" height="13.70" rx="0.6" fill="#9696ff" stroke="#2020ff" stroke-width="1.3"/><rect x="489.70" y="320.35" width="6.1" height="6.1" fill="#a8a8ff" stroke="#0000ff" stroke-width="1.1"/><text x="500.85" y="306.9" font-size="10.5">ATLAS</text><text x="503.65" y="328.0" font-size="10.5">CMS</text></g><path d="M763 0H583V1147Q518 1085 412.5 1023Q307 961 223 930V1104Q374 1175 487 1276Q600 1377 647 1472H763Z" transform="translate(23.27,35.10) scale(0.00635,-0.00635)" fill="#000" stroke="#000" stroke-width="47"/><text x="3.30" y="76.16" font-size="13" class="ax">0.98</text><text x="3.30" y="117.22" font-size="13" class="ax">0.96</text><text x="3.30" y="158.28" font-size="13" class="ax">0.94</text><g transform="translate(12.0,26.0) rotate(-90)"><text x="0" y="0" font-size="14.5">r</text><g transform="translate(4.9,3.9) scale(0.86,1)"><text x="0.00" y="0.00" font-size="9.6">2|2;</text><path d="M763 0H583V1147Q518 1085 412.5 1023Q307 961 223 930V1104Q374 1175 487 1276Q600 1377 647 1472H763Z" transform="translate(15.84,0.00) scale(0.00469,-0.00469)" fill="#000" stroke="#000" stroke-width="29"/></g></g><path d="M763 0H583V1147Q518 1085 412.5 1023Q307 961 223 930V1104Q374 1175 487 1276Q600 1377 647 1472H763Z" transform="translate(23.27,206.80) scale(0.00635,-0.00635)" fill="#000" stroke="#000" stroke-width="47"/><text x="3.30" y="248.15" font-size="13" class="ax">0.98</text><text x="3.30" y="289.50" font-size="13" class="ax">0.96</text><text x="3.30" y="330.85" font-size="13" class="ax">0.94</text><g transform="translate(12.0,196.79999999999998) rotate(-90)"><text x="0" y="0" font-size="14.5">r</text><g transform="translate(4.9,3.9) scale(0.86,1)"><text x="0.00" y="0.00" font-size="9.6">2|2;</text><path d="M763 0H583V1147Q518 1085 412.5 1023Q307 961 223 930V1104Q374 1175 487 1276Q600 1377 647 1472H763Z" transform="translate(15.84,0.00) scale(0.00469,-0.00469)" fill="#000" stroke="#000" stroke-width="29"/></g></g><text x="27.49" y="353.80" font-size="13" class="ax">0</text><text x="65.02" y="353.80" font-size="13" class="ax">0.5</text><path d="M763 0H583V1147Q518 1085 412.5 1023Q307 961 223 930V1104Q374 1175 487 1276Q600 1377 647 1472H763Z" transform="translate(115.14,353.80) scale(0.00635,-0.00635)" fill="#000" stroke="#000" stroke-width="47"/><path d="M763 0H583V1147Q518 1085 412.5 1023Q307 961 223 930V1104Q374 1175 487 1276Q600 1377 647 1472H763Z" transform="translate(150.82,353.80) scale(0.00635,-0.00635)" fill="#000" stroke="#000" stroke-width="47"/><text x="158.04" y="353.80" font-size="13" class="ax">.5</text><text x="199.29" y="353.80" font-size="13" class="ax">2</text><text x="240.55" y="360.8" font-size="13.5" text-anchor="middle" class="ax">η</text><text x="247.39" y="353.80" font-size="13" class="ax">0</text><text x="285.11" y="353.80" font-size="13" class="ax">0.5</text><path d="M763 0H583V1147Q518 1085 412.5 1023Q307 961 223 930V1104Q374 1175 487 1276Q600 1377 647 1472H763Z" transform="translate(334.84,353.80) scale(0.00635,-0.00635)" fill="#000" stroke="#000" stroke-width="47"/><path d="M763 0H583V1147Q518 1085 412.5 1023Q307 961 223 930V1104Q374 1175 487 1276Q600 1377 647 1472H763Z" transform="translate(370.11,353.80) scale(0.00635,-0.00635)" fill="#000" stroke="#000" stroke-width="47"/><text x="377.34" y="353.80" font-size="13" class="ax">.5</text><text x="418.19" y="353.80" font-size="13" class="ax">2</text><text x="459.20" y="360.8" font-size="13.5" text-anchor="middle" class="ax">η</text><text x="465.94" y="353.80" font-size="13" class="ax">0</text><text x="503.54" y="353.80" font-size="13" class="ax">0.5</text><path d="M763 0H583V1147Q518 1085 412.5 1023Q307 961 223 930V1104Q374 1175 487 1276Q600 1377 647 1472H763Z" transform="translate(553.14,353.80) scale(0.00635,-0.00635)" fill="#000" stroke="#000" stroke-width="47"/><path d="M763 0H583V1147Q518 1085 412.5 1023Q307 961 223 930V1104Q374 1175 487 1276Q600 1377 647 1472H763Z" transform="translate(588.29,353.80) scale(0.00635,-0.00635)" fill="#000" stroke="#000" stroke-width="47"/><text x="595.52" y="353.80" font-size="13" class="ax">.5</text><text x="636.24" y="353.80" font-size="13" class="ax">2</text><text x="677.10" y="360.8" font-size="13.5" text-anchor="middle" class="ax">η</text></svg>
</body></html>
